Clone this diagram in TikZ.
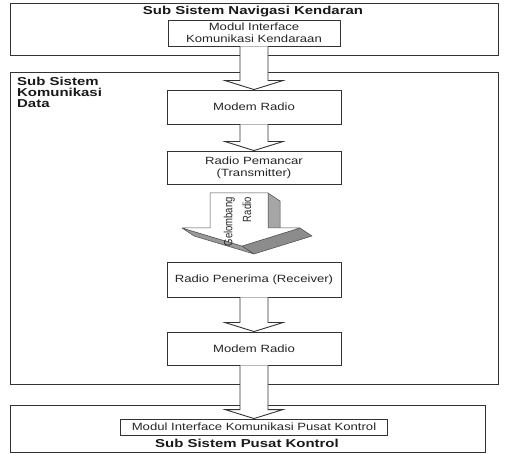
\documentclass[tikz,border=0pt]{standalone}
\usepackage{graphicx}
\usepackage{fontspec}
\setmainfont{Liberation Sans}[FakeStretch=1.25]
\newfontfamily\gelfont{Liberation Sans}
\newfontfamily\titlefont{Liberation Sans Bold}[FakeStretch=1.3]
\usetikzlibrary{calc}

\tikzset{
  outerbox/.style={draw=black!80, line width=0.9pt, inner sep=0pt},
  modbox/.style={draw=black!80, line width=0.9pt, fill=white, minimum width=174pt,
    minimum height=34pt, inner sep=0pt, align=center, text=black!85,
    font=\fontsize{10.5}{12}\selectfont},
  titletext/.style={font=\titlefont\fontsize{11.5}{11}\selectfont, inner sep=0pt, text=black!90},
  blockarrow/.style={draw=black!80, line width=0.9pt, fill=white, line join=miter},
  waveside/.style={draw=black!70, line width=0.5pt, line join=round},
}

\newcommand{\flowarrow}[2]{%
  \draw[blockarrow] ($(#1.south)+(-14,0)$) -- ($(#2.north)+(-14,-9)$)
    -- ($(#2.north)+(-29,-9)$) -- (#2.north) -- ($(#2.north)+(29,-9)$)
    -- ($(#2.north)+(14,-9)$) -- ($(#1.south)+(14,0)$);}

\begin{document}
\begin{tikzpicture}[x=1pt,y=-1pt]
  \useasboundingbox (0,0) rectangle (506,454);

  % sub sistem boxes
  \node[outerbox, minimum width=488pt, minimum height=52pt] (navsys) at (254,29) {};
  \node[titletext] (navtitle) at (253,12) {Sub Sistem Navigasi Kendaran};

  \node[outerbox, minimum width=488pt, minimum height=312pt] (komsys) at (254,228) {};
  \node[titletext, align=left, anchor=north west] (komtitle) at (17,77)
    {Sub Sistem\\Komunikasi\\Data};

  \node[outerbox, minimum width=475pt, minimum height=47pt] (pusatsys) at (247.5,428.5) {};
  \node[titletext] (pusattitle) at (247,443) {Sub Sistem Pusat Kontrol};

  % modules
  \node[modbox, minimum width=172pt, minimum height=26pt] (modkend) at (254,33)
    {Modul Interface\\Komunikasi Kendaraan};
  \node[modbox, minimum height=34pt] (modem1) at (254,107) {Modem Radio};
  \node[modbox, minimum height=33pt] (pemancar) at (254,167.5)
    {Radio Pemancar\\(Transmitter)};
  \node[modbox, minimum height=35pt] (penerima) at (254,279.5)
    {Radio Penerima (Receiver)};
  \node[modbox, minimum height=33pt] (modem2) at (254,348.5) {Modem Radio};
  \node[modbox, minimum width=267pt, minimum height=16pt] (modpusat) at (254,427)
    {Modul Interface Komunikasi Pusat Kontrol};

  \flowarrow{modkend}{modem1}
  \flowarrow{modem1}{pemancar}
  \flowarrow{penerima}{modem2}
  \flowarrow{modem2}{modpusat}

  % gelombang radio (3d arrow)
  \coordinate (ga) at (210,193);
  \coordinate (gb) at (268,193);
  \coordinate (gc) at (268,228);
  \coordinate (gd) at (300,228);
  \coordinate (gt) at (242,246);
  \coordinate (ge) at (182,228);
  \coordinate (gg) at (210,228);
  \filldraw[waveside, fill=black!35] (gb) -- ++(12,8) -- ($(gc)+(12,8)$) -- (gc) -- cycle;
  \filldraw[waveside, fill=black!40] (ge) -- ++(12,8) -- ($(gt)+(12,8)$) -- (gt) -- cycle;
  \filldraw[waveside, fill=black!45] (gd) -- ++(12,8) -- ($(gt)+(12,8)$) -- (gt) -- cycle;
  \filldraw[waveside, fill=white] (ga) -- (gb) -- (gc) -- (gd) -- (gt) -- (ge) -- (gg) -- cycle;
  \node[rotate=90, anchor=east, inner sep=0pt, text=black!85,
    font=\gelfont\fontsize{9.5}{15}\selectfont] (gelombang) at (238,197)
    {\scalebox{1}[1.25]{\begin{tabular}{@{}r@{}}Gelombang\\Radio\end{tabular}}};
\end{tikzpicture}
\end{document}
